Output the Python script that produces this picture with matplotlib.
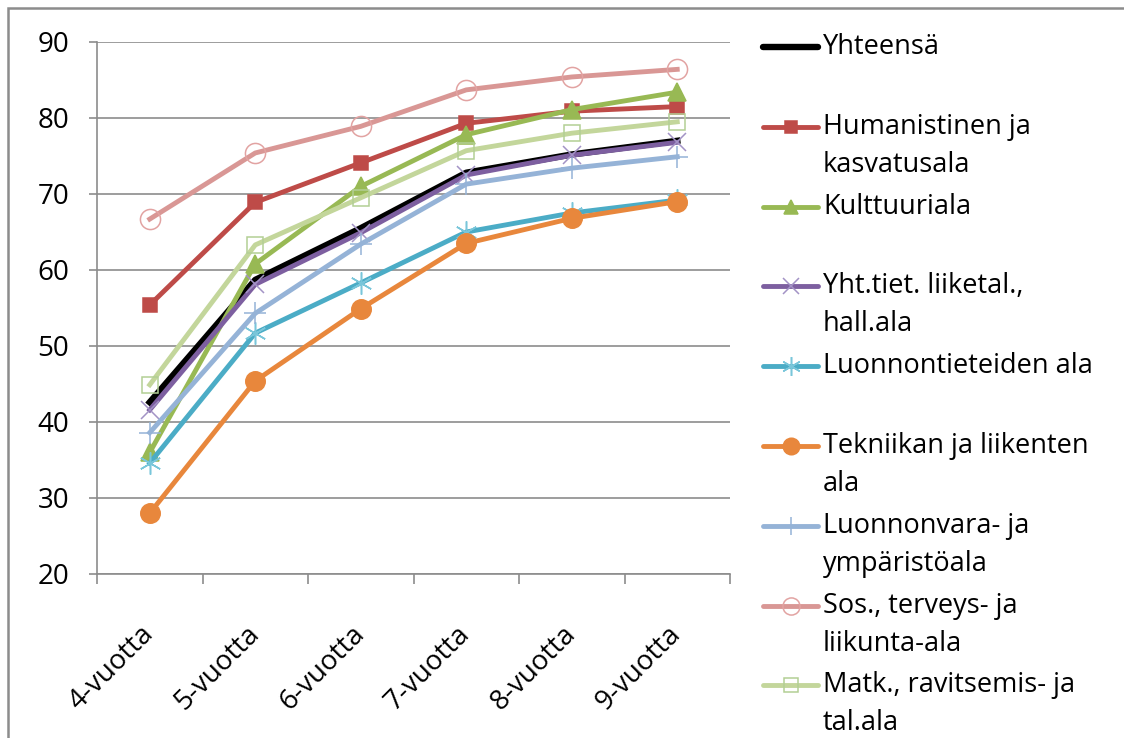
import matplotlib
matplotlib.use("Agg")
import matplotlib.pyplot as plt
from matplotlib.lines import Line2D
from matplotlib.patches import Rectangle
from matplotlib.transforms import ScaledTranslation

plt.rcParams["font.family"] = ["Open Sans", "DejaVu Sans"]

categories = ["4-vuotta", "5-vuotta", "6-vuotta", "7-vuotta", "8-vuotta", "9-vuotta"]

series_names = [
    "Yhteensä",
    "Humanistinen ja\nkasvatusala",
    "Kulttuuriala",
    "Yht.tiet. liiketal.,\nhall.ala",
    "Luonnontieteiden ala",
    "Tekniikan ja liikenten\nala",
    "Luonnonvara- ja\nympäristöala",
    "Sos., terveys- ja\nliikunta-ala",
    "Matk., ravitsemis- ja\ntal.ala",
]

yhteensa = [42.6, 58.7, 65.5, 72.8, 75.2, 77.0]
humanistinen = [55.4, 68.9, 74.1, 79.3, 80.9, 81.5]
kulttuuri = [36.0, 60.8, 71.0, 77.8, 81.1, 83.4]
yhteiskunta = [41.6, 58.1, 64.9, 72.5, 75.1, 76.8]
luonnontiede = [34.6, 51.7, 58.3, 65.0, 67.5, 69.2]
tekniikka = [28.0, 45.4, 54.9, 63.5, 66.8, 69.0]
luonnonvara = [38.6, 54.3, 63.4, 71.3, 73.4, 74.9]
sosiaali = [66.7, 75.4, 78.9, 83.7, 85.4, 86.4]
matkailu = [44.9, 63.3, 69.5, 75.7, 78.0, 79.5]

values = [yhteensa, humanistinen, kulttuuri, yhteiskunta, luonnontiede,
          tekniikka, luonnonvara, sosiaali, matkailu]

# line colour, marker, marker size, marker face, marker edge, line width
styles = [
    ("#000000", None, 0, None, None, 4.6),
    ("#BE4B48", "s", 10, "#BE4B48", "#BE4B48", 3.5),
    ("#98B954", "^", 12.5, "#98B954", "#98B954", 3.5),
    ("#7D5FA0", "x", 13, "none", "#A393C6", 3.5),
    ("#4BACC6", (6, 2, 0), 16, "none", "#79C6DA", 3.5),
    ("#E8873C", "o", 14, "#E8873C", "#E8873C", 3.5),
    ("#95B3D7", "+", 16, "none", "#95B3D7", 3.5),
    ("#D99795", "o", 14.5, "none", "#E2A3A2", 3.5),
    ("#C3D69B", "s", 12, "none", "#B3CF95", 3.5),
]

W, H = 1124, 738
fig = plt.figure(figsize=(W / 100, H / 100), dpi=100)
ax = fig.add_axes([97 / W, 1 - 574 / H, (730 - 97) / W, (574 - 42) / H])

x = list(range(len(categories)))
for vals, (col, mk, ms, mfc, mec, lw) in zip(values, styles):
    ax.plot(x, vals, color=col, lw=lw, marker=mk, markersize=ms,
            markerfacecolor=mfc, markeredgecolor=mec, markeredgewidth=1.1,
            solid_joinstyle="round", clip_on=False)

grid_col = "#8C8C8C"
ax.set_ylim(20, 90)
ax.set_xlim(-0.5, len(categories) - 0.5)
ax.set_yticks(range(20, 91, 10))
ax.yaxis.grid(True, color=grid_col, lw=1.2)
ax.set_axisbelow(True)
ax.set_xticks([i - 0.5 for i in range(len(categories) + 1)])
ax.set_xticklabels([])
ax.set_xticks(x, minor=True)
ax.set_xticklabels(categories, minor=True, rotation=45, ha="right",
                   va="center", rotation_mode="anchor", fontsize=20)
shift = ScaledTranslation(-4 / 100, 0, fig.dpi_scale_trans)
for lab in ax.get_xticklabels(minor=True):
    lab.set_transform(lab.get_transform() + shift)
ax.tick_params(axis="x", which="minor", length=0, pad=40)
ax.tick_params(axis="x", which="major", length=7, color=grid_col, width=1.2)
ax.tick_params(axis="y", length=6, color=grid_col, width=1.2, labelsize=20, pad=14)
for side in ("top", "right"):
    ax.spines[side].set_visible(False)
for side in ("left", "bottom"):
    ax.spines[side].set_color(grid_col)
    ax.spines[side].set_linewidth(1.2)

# legend laid out in fixed slots on its own axes
lax = fig.add_axes([0, 0, 1, 1], facecolor="none")
lax.set_xlim(0, W)
lax.set_ylim(H, 0)
lax.axis("off")
for i, (name, (col, mk, ms, mfc, mec, lw)) in enumerate(zip(series_names, styles)):
    yy = 47 + 79.8 * i
    lax.add_line(Line2D([763, 818], [yy, yy], color=col, lw=lw,
                        solid_capstyle="round"))
    if mk is not None:
        lax.add_line(Line2D([790.5], [yy], marker=mk, markersize=ms * 0.85,
                            markerfacecolor=mfc, markeredgecolor=mec,
                            markeredgewidth=1.1, color=col))
    for j, line in enumerate(name.split("\n")):
        lax.text(823, yy + 38 * j, line, fontsize=19.5, va="center", ha="left")

# chart frame, running off the right and bottom edges
fig.add_artist(Rectangle((8 / W, -0.05), 1.0, 1.05 - 8 / H,
                         transform=fig.transFigure, fill=False,
                         edgecolor="#8C8C8C", lw=1.8))

fig.savefig("out.png", dpi=100)
